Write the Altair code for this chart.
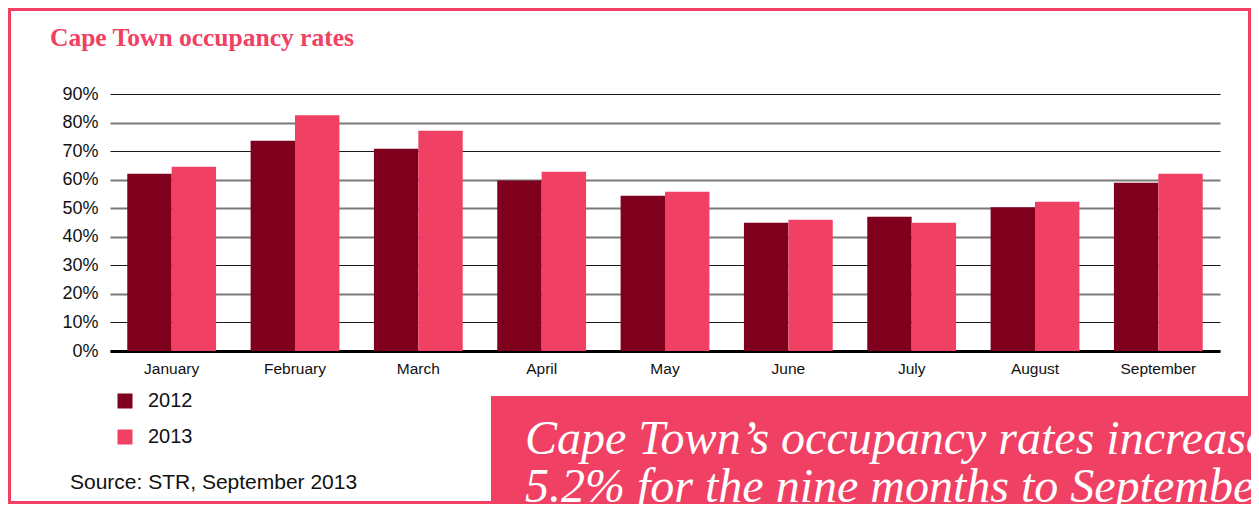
import altair as alt
import pandas as pd

months = ["January", "February", "March", "April", "May", "June", "July", "August", "September"]
rate_2012 = [62.1, 73.6, 70.8, 59.7, 54.4, 44.9, 47.0, 50.3, 58.9]
rate_2013 = [64.5, 82.6, 77.1, 62.8, 55.8, 46.0, 44.9, 52.3, 62.1]
years = ["2012", "2013"]
y_ticks = [0, 10, 20, 30, 40, 50, 60, 70, 80, 90]

DARK = "#7F001C"
PINK = "#F04063"

rows = []
for m, a, b in zip(months, rate_2012, rate_2013):
    rows.append({"month": m, "year": years[0], "rate": a})
    rows.append({"month": m, "year": years[1], "rate": b})
df = pd.DataFrame(rows)

one = pd.DataFrame({"k": [0]})

gray_test = "datum.value == 80 || datum.value == 60 || datum.value == 50 || datum.value == 40 || datum.value == 20"

bars = alt.Chart(df).mark_bar().encode(
    x=alt.X("month:N", sort=months, title=None,
            scale=alt.Scale(paddingInner=0.28, paddingOuter=0.14),
            axis=alt.Axis(labelAngle=0, ticks=False, labelFontSize=15.5, labelPadding=10,
                          labelColor="#111", domainColor="#000", domainWidth=3, grid=False)),
    xOffset=alt.XOffset("year:N", sort=years),
    y=alt.Y("rate:Q", title=None, scale=alt.Scale(domain=[0, 90], nice=False),
            axis=alt.Axis(values=y_ticks, labelExpr="datum.value + '%'", ticks=False, domain=False,
                          labelFontSize=18, labelPadding=12, labelColor="#111",
                          grid=True,
                          gridColor={"condition": {"test": gray_test, "value": "#7a7a7a"}, "value": "#1a1a1a"},
                          gridWidth={"condition": {"test": gray_test, "value": 1.8}, "value": 1.1})),
    color=alt.Color("year:N", sort=years, scale=alt.Scale(domain=years, range=[DARK, PINK]),
                    legend=alt.Legend(orient="none", legendX=5, legendY=297, title=None,
                                      symbolType="square", symbolSize=225, symbolStrokeWidth=0,
                                      labelFontSize=20, labelOffset=13, rowPadding=16, padding=0,
                                      labelColor="#111")),
)

frame = alt.Chart(one).mark_rect(fillOpacity=0, stroke=PINK, strokeWidth=3).encode(
    x=alt.value(-100.5), x2=alt.value(1139.5), y=alt.value(-84.5), y2=alt.value(408.5)
)

title = alt.Chart(one).mark_text(align="left", baseline="alphabetic", font="Liberation Serif",
                                 fontWeight="bold", fontSize=25.5, color=PINK).encode(
    x=alt.value(-60), y=alt.value(-48), text=alt.value("Cape Town occupancy rates")
)

source = alt.Chart(one).mark_text(align="left", baseline="alphabetic", font="Liberation Sans",
                                  fontSize=21, color="#111").encode(
    x=alt.value(-40), y=alt.value(395), text=alt.value("Source: STR, September 2013")
)

box = alt.Chart(one).mark_rect(color=PINK).encode(
    x=alt.value(381), x2=alt.value(1141), y=alt.value(302), y2=alt.value(410)
)

line1 = alt.Chart(one).mark_text(align="left", baseline="alphabetic", font="Liberation Serif",
                                 fontStyle="italic", fontSize=48, color="white").encode(
    x=alt.value(415), y=alt.value(360), text=alt.value("Cape Town’s occupancy rates increased")
)
line2 = alt.Chart(one).mark_text(align="left", baseline="alphabetic", font="Liberation Serif",
                                 fontStyle="italic", fontSize=48, color="white").encode(
    x=alt.value(415), y=alt.value(408), text=alt.value("5.2% for the nine months to September 2013")
)

chart = alt.layer(frame, bars, title, source, box, line1, line2).properties(
    width=1110, height=257,
    padding={"left": 102, "top": 86, "right": 31, "bottom": 153},
    autosize=alt.AutoSizeParams(type="none"),
).configure(font="Liberation Sans").configure_view(stroke=None)

chart.save("out.html", embed_options={"renderer": "svg", "actions": False})
